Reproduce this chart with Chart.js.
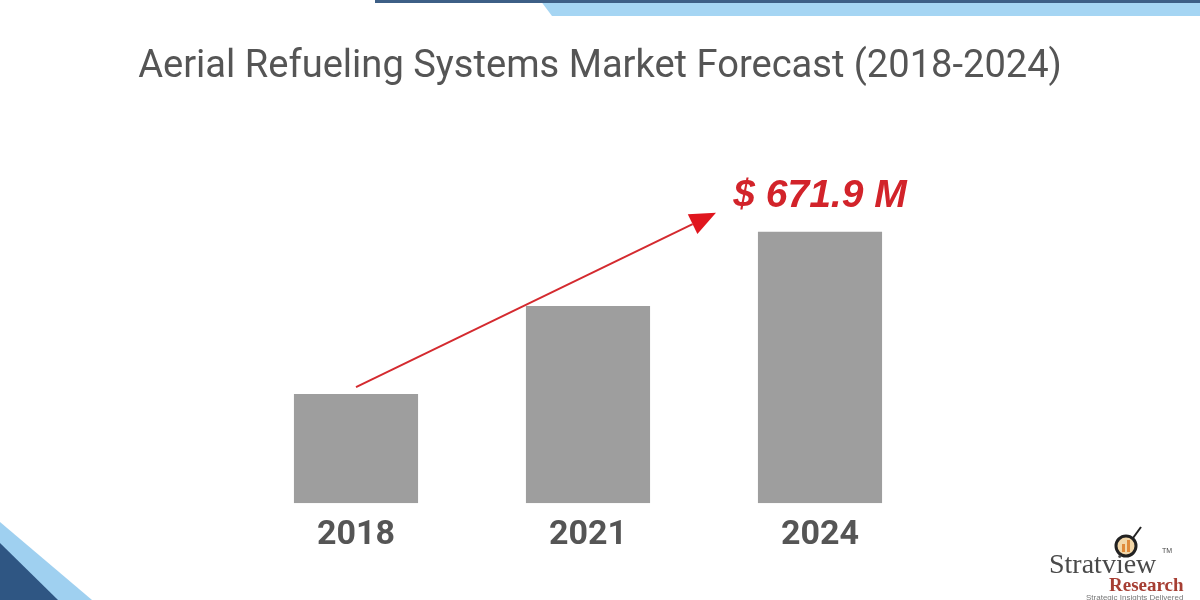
<!DOCTYPE html>
<html lang="en">
<head>
    <meta charset="UTF-8">
    <title>Aerial Refueling Systems Market Forecast (2018-2024)</title>
    <script src="https://cdn.jsdelivr.net/npm/chart.js"></script>
    <style>
        html, body {
            margin: 0;
            padding: 0;
            background: #ffffff;
        }
        .wrap {
            width: 1200px;
            height: 600px;
            position: relative;
        }
    </style>
</head>
<body>
    <div class="wrap">
        <canvas id="marketChart" width="1200" height="600"></canvas>
    </div>

    <script>
        // chart data
        const years = ['2018', '2021', '2024'];
        const marketSize = [270, 488, 671.9];   // US$ million, first two
        const highlightLabel = '$ 671.9 M';
        const chartTitle = 'Aerial Refueling Systems Market Forecast (2018-2024)';

        // title, corner decorations, arrow, value label and logo
        const decorations = {
            id: 'decorations',
            beforeDraw(chart) {
                const c = chart.ctx;
                c.save();
                c.fillStyle = '#ffffff';
                c.fillRect(0, 0, chart.width, chart.height);

                // top band
                c.fillStyle = '#a5d5f3';
                c.beginPath();
                c.moveTo(540, 0);
                c.lineTo(1200, 0);
                c.lineTo(1200, 16);
                c.lineTo(552, 16);
                c.closePath();
                c.fill();
                c.fillStyle = '#3d5f86';
                c.fillRect(375, 0, 825, 3);

                // bottom-left corner
                c.fillStyle = '#9fd0f0';
                c.beginPath();
                c.moveTo(0, 522);
                c.lineTo(92, 600);
                c.lineTo(0, 600);
                c.closePath();
                c.fill();
                c.fillStyle = '#2f5683';
                c.beginPath();
                c.moveTo(0, 543);
                c.lineTo(58, 600);
                c.lineTo(0, 600);
                c.closePath();
                c.fill();

                // title, sized to span the same width as the original
                let size = 34;
                c.font = size + 'px Roboto, "Liberation Sans", sans-serif';
                size = size * 925 / c.measureText(chartTitle).width;
                c.font = size.toFixed(1) + 'px Roboto, "Liberation Sans", sans-serif';
                c.fillStyle = '#555555';
                c.textAlign = 'center';
                c.textBaseline = 'middle';
                c.fillText(chartTitle, 600, 67);
                c.restore();
            },
            afterDatasetsDraw(chart) {
                const c = chart.ctx;
                const x = chart.scales.x;
                const y = chart.scales.y;
                const last = marketSize.length - 1;

                const x0 = x.getPixelForValue(0);
                const y0 = y.getPixelForValue(marketSize[0]) - 7;
                const xl = x.getPixelForValue(last);
                const yl = y.getPixelForValue(marketSize[last]);
                const x1 = xl - 104;
                const y1 = yl - 19;

                c.save();
                // arrow
                const ang = Math.atan2(y1 - y0, x1 - x0);
                const headLen = 26, headW = 11;
                const bx = x1 - headLen * Math.cos(ang);
                const by = y1 - headLen * Math.sin(ang);
                c.strokeStyle = '#d42a2f';
                c.lineWidth = 2;
                c.beginPath();
                c.moveTo(x0, y0);
                c.lineTo(bx, by);
                c.stroke();
                c.fillStyle = '#e0161e';
                c.beginPath();
                c.moveTo(x1, y1);
                c.lineTo(bx + headW * Math.sin(ang), by - headW * Math.cos(ang));
                c.lineTo(bx - headW * Math.sin(ang), by + headW * Math.cos(ang));
                c.closePath();
                c.fill();

                // value label
                c.fillStyle = '#d2232a';
                c.font = 'italic bold 39px "Liberation Sans", Arial, sans-serif';
                c.textAlign = 'center';
                c.textBaseline = 'alphabetic';
                c.fillText(highlightLabel, xl, yl - 25);

                // logo
                c.strokeStyle = '#222';
                c.lineWidth = 3;
                c.fillStyle = '#f3d7a8';
                c.beginPath();
                c.arc(1126, 546, 10, 0, Math.PI * 2);
                c.fill();
                c.stroke();
                c.lineWidth = 2;
                c.beginPath();
                c.moveTo(1133, 538);
                c.lineTo(1141, 527);
                c.stroke();
                c.fillStyle = '#e08a3a';
                c.fillRect(1122, 544, 3, 8);
                c.fillRect(1127, 540, 3, 12);

                c.fillStyle = '#4a4a4a';
                c.textAlign = 'left';
                c.font = '28px "Liberation Serif", "DejaVu Serif", serif';
                c.fillText('Stratview', 1049, 573);
                c.font = '7px "Liberation Sans", sans-serif';
                c.fillText('TM', 1162, 553);
                c.fillStyle = '#a63e33';
                c.font = 'bold 19px "Liberation Serif", "DejaVu Serif", serif';
                c.fillText('Research', 1109, 591);
                c.fillStyle = '#777';
                c.font = '8px "Liberation Sans", sans-serif';
                c.fillText('Strategic Insights Delivered', 1086, 600);
                c.restore();
            }
        };

        const ctx = document.getElementById('marketChart').getContext('2d');
        new Chart(ctx, {
            type: 'bar',
            data: {
                labels: years,
                datasets: [{
                    data: marketSize,
                    backgroundColor: '#9e9e9e',
                    borderWidth: 0,
                    barPercentage: 0.535,
                    categoryPercentage: 1.0
                }]
            },
            options: {
                responsive: false,
                animation: false,
                events: [],
                layout: {
                    padding: { left: 240, right: 264, top: 180, bottom: 40 }
                },
                plugins: {
                    legend: { display: false },
                    tooltip: { enabled: false },
                    title: { display: false }
                },
                scales: {
                    x: {
                        grid: { display: false },
                        border: { display: false },
                        ticks: {
                            color: '#555555',
                            padding: 4,
                            font: { family: 'Roboto, "Liberation Sans", sans-serif', size: 34, weight: 'bold' }
                        }
                    },
                    y: {
                        display: false,
                        min: 0,
                        max: 800
                    }
                }
            },
            plugins: [decorations]
        });
    </script>
</body>
</html>
